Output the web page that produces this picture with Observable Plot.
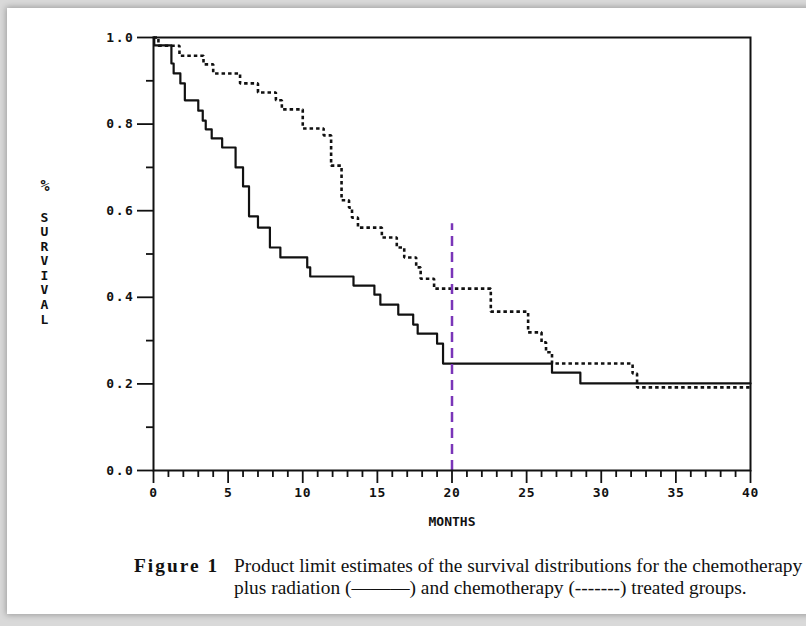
<!DOCTYPE html>
<html><head><meta charset="utf-8">
<script src="https://cdn.jsdelivr.net/npm/d3@7"></script>
<script src="https://cdn.jsdelivr.net/npm/@observablehq/plot@0.6"></script>
<style>
html,body{margin:0;padding:0;}
body{width:806px;height:626px;background:#d9d9d9;position:relative;overflow:hidden;}
#card{position:absolute;left:7px;top:8px;width:830px;height:606px;background:#fff;box-shadow:0 0 6px 1px rgba(0,0,0,0.28);}
#chart{position:absolute;left:0;top:0;}
.cap{position:absolute;font-family:"Liberation Serif",serif;font-size:19.4px;line-height:22px;color:#111;white-space:nowrap;}
[aria-label="y-axis tick label"] text{letter-spacing:1.6px;}
[aria-label="x-axis tick label"] text{letter-spacing:0.6px;}
</style></head><body>
<div id="card"></div>
<div id="chart"></div>
<div class="cap" style="left:134px;top:555px;font-weight:bold;letter-spacing:2px">Figure 1</div>
<div class="cap" style="left:234px;top:555px">Product limit estimates of the survival distributions for the chemotherapy<br>plus radiation (———) and chemotherapy (-------) treated groups.</div>
<script>
// Chemotherapy plus radiation (solid)
const chemoRadMonths = [0, 0.05, 1.2, 1.35, 1.8, 2.1, 3.0, 3.3, 3.5, 3.9, 4.6, 5.5, 6.0, 6.4, 7.0, 7.8, 8.5, 10.3, 10.5, 13.4, 14.8, 15.2, 16.4, 17.4, 17.7, 19.0, 19.4, 26.7, 28.6, 40];
const chemoRadSurv   = [1.0, 0.982, 0.94, 0.917, 0.894, 0.855, 0.831, 0.808, 0.788, 0.767, 0.746, 0.70, 0.656, 0.587, 0.561, 0.515, 0.492, 0.469, 0.448, 0.427, 0.406, 0.383, 0.360, 0.337, 0.316, 0.293, 0.247, 0.226, 0.201, 0.201];
// Chemotherapy (dashed)
const chemoMonths = [0, 0.33, 1.74, 3.35, 4.0, 5.8, 7.0, 8.2, 8.6, 10.0, 11.4, 11.9, 12.6, 13.1, 13.3, 13.7, 15.3, 16.3, 16.8, 17.6, 17.9, 18.8, 22.6, 25.1, 26.0, 26.3, 26.7, 32.1, 32.4, 40];
const chemoSurv   = [1.0, 0.981, 0.958, 0.938, 0.917, 0.894, 0.873, 0.855, 0.834, 0.790, 0.774, 0.704, 0.624, 0.607, 0.584, 0.561, 0.538, 0.515, 0.492, 0.469, 0.443, 0.420, 0.367, 0.319, 0.296, 0.273, 0.247, 0.224, 0.192, 0.192];
// Reference marker
const markerMonths = [20];
const markerTop = 0.57;
// Ticks
const xMajorTicks = [0, 5, 10, 15, 20, 25, 30, 35, 40];
const xMinorTicks = [1,2,3,4,6,7,8,9,11,12,13,14,16,17,18,19,21,22,23,24,26,27,28,29,31,32,33,34,36,37,38,39];
const yMajorTicks = [0, 0.2, 0.4, 0.6, 0.8, 1.0];
const yMinorTicks = [0.1, 0.3, 0.5, 0.7, 0.9];
const xLabel = "MONTHS";
const yLabelPct = "%";
const yLabel = "S\nU\nR\nV\nI\nV\nA\nL";

const solid = chemoRadMonths.map((m, i) => ({month: m, surv: chemoRadSurv[i]}));
const dashed = chemoMonths.map((m, i) => ({month: m, surv: chemoSurv[i]}));
const mono = "DejaVu Sans Mono";

const chart = Plot.plot({
  width: 806, height: 540,
  marginLeft: 153, marginRight: 56, marginTop: 37, marginBottom: 70,
  style: {background: "transparent", overflow: "visible"},
  x: {domain: [0, 40]},
  y: {domain: [0, 1]},
  marks: [
    Plot.line(dashed, {x: "month", y: "surv", curve: "step-after", stroke: "#111", strokeWidth: 2.6, strokeDasharray: "3.5,3", strokeLinecap: "butt", strokeLinejoin: "miter"}),
    Plot.line(solid, {x: "month", y: "surv", curve: "step-after", stroke: "#111", strokeWidth: 2.2}),
    Plot.ruleX(markerMonths, {y1: 0, y2: markerTop, stroke: "#7a35b8", strokeWidth: 2.5, strokeDasharray: "10,6"}),
    Plot.frame({stroke: "#111", strokeWidth: 2}),
    Plot.axisX(xMajorTicks, {tickSize: 13, tickPadding: 4, tickFormat: d => String(d), label: null, stroke: "#111", color: "#111", fontFamily: mono, fontSize: 13, fontWeight: "bold", strokeWidth: 1.8}),
    Plot.axisX(xMinorTicks, {tickSize: 7, tickFormat: () => "", label: null, stroke: "#111", strokeWidth: 1.8}),
    Plot.axisY(yMajorTicks, {tickSize: 16, tickPadding: 3, tickFormat: d3.format(".1f"), label: null, stroke: "#111", color: "#111", fontFamily: mono, fontSize: 13, fontWeight: "bold", strokeWidth: 1.8}),
    Plot.axisY(yMinorTicks, {tickSize: 7, tickFormat: () => "", label: null, stroke: "#111", strokeWidth: 1.8}),
    Plot.text([xLabel], {frameAnchor: "bottom", dy: 55, fontFamily: mono, fontSize: 13, fontWeight: "bold", fill: "#111"}),
    Plot.text([yLabelPct], {frameAnchor: "left", dx: -113, dy: -68, fontFamily: mono, fontSize: 15, fontWeight: "bold", fill: "#111"}),
    Plot.text([yLabel], {frameAnchor: "left", dx: -113, dy: 14, lineHeight: 1.12, fontFamily: mono, fontSize: 13, fontWeight: "bold", fill: "#111"})
  ]
});
document.getElementById("chart").appendChild(chart);
</script>
</body></html>
